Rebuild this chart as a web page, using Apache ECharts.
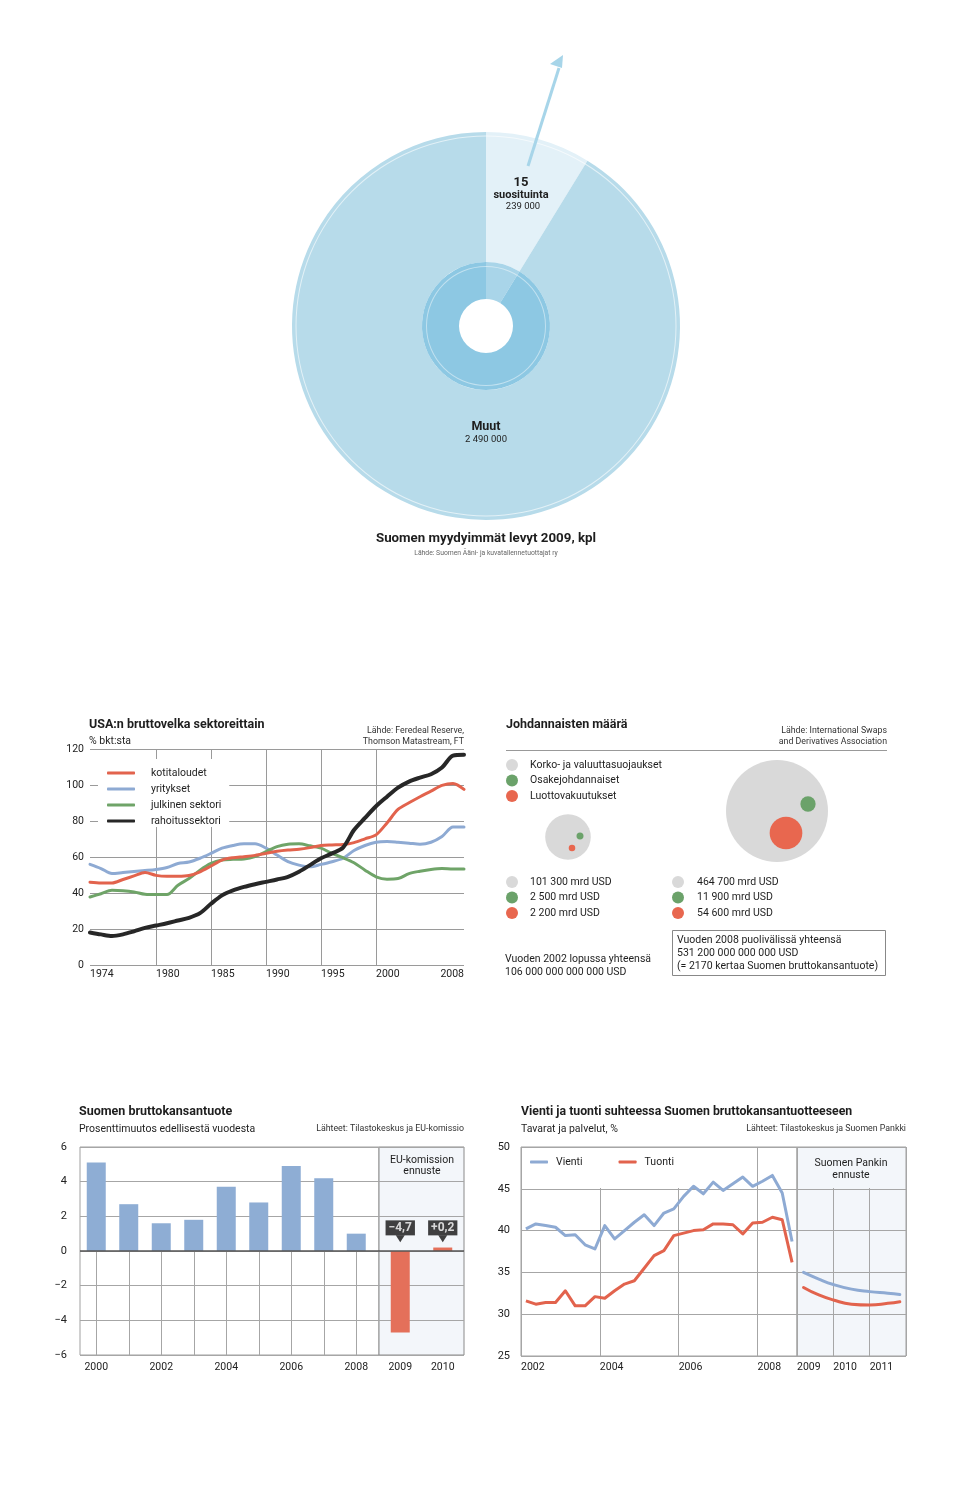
<!DOCTYPE html>
<html><head><meta charset="utf-8">
<script src="https://cdn.jsdelivr.net/npm/echarts@6/dist/echarts.min.js"></script>
<style>html,body{margin:0;padding:0;background:#fff}#c{width:960px;height:1497px}</style>
</head><body><div id="c"></div>
<script>
// ================= DATA =================
// 1) Suomen myydyimmät levyt 2009, kpl
const discLabels = ['15 suosituinta', 'Muut'];
const discValues = [239000, 2490000];

// 2) USA:n bruttovelka sektoreittain, % bkt:sta
const usaYears = [1974,1975,1976,1977,1978,1979,1980,1981,1982,1983,1984,1985,1986,1987,1988,1989,1990,1991,1992,1993,1994,1995,1996,1997,1998,1999,2000,2001,2002,2003,2004,2005,2006,2007,2008];
const usaHouseholds = [46.0,45.6,45.6,47.5,49.5,51.4,49.8,49.3,49.3,49.7,51.8,55.0,58.3,59.6,60.2,60.9,62.0,63.2,63.9,64.3,65.2,66.4,66.7,66.9,68.0,70.1,72.3,78.9,86.4,90.1,93.5,96.6,99.8,100.9,97.6];
const usaCorporate = [55.9,53.6,50.8,51.4,52.0,52.5,53.1,54.2,56.4,57.2,59.3,62.0,64.9,66.4,67.3,67.3,64.9,61.1,57.4,55.5,54.6,55.9,57.4,59.3,63.6,66.4,68.2,68.6,68.2,67.7,67.1,68.2,71.4,76.6,76.6];
const usaPublic = [37.8,39.6,41.5,41.3,40.6,39.3,39.1,39.1,44.3,48.0,52.7,56.4,58.3,58.7,58.9,60.2,63.0,65.8,67.1,67.3,66.2,64.9,62.0,59.6,56.8,52.7,49.0,47.7,48.0,50.8,52.1,53.1,53.6,53.3,53.3];
const usaFinancial = [18.1,17.0,16.1,17.0,18.7,20.6,21.9,23.2,24.7,26.2,28.8,34.0,38.7,41.5,43.4,44.9,46.2,47.5,49.0,51.8,55.5,59.3,62.0,65.2,75.0,81.7,88.2,93.5,98.5,101.9,104.1,106.0,109.7,116.3,116.8];
const usaSeriesNames = ['kotitaloudet','yritykset','julkinen sektori','rahoitussektori'];
const usaXTicks = [1974,1980,1985,1990,1995,2000];
const usaXEndTick = [2008];
const usaGridYears = [1980,1985,1990,1995,2000];

// 3) Johdannaisten määrä, mrd USD
const derivTypes = ['Korko- ja valuuttasuojaukset','Osakejohdannaiset','Luottovakuutukset'];
const deriv2002 = [101300, 2500, 2200];
const deriv2008 = [464700, 11900, 54600];

// 4) Suomen bruttokansantuote, % muutos
const gdpYears = [2000,2001,2002,2003,2004,2005,2006,2007,2008];
const gdpValues = [5.1,2.7,1.6,1.8,3.7,2.8,4.9,4.2,1.0];
const gdpLabelYears = [2000,2002,2004,2006,2008];
const gdpForecastYears = ['2009','2010'];
const gdpForecast = [-4.7, 0.2];

// 5) Vienti ja tuonti suhteessa BKT:hen, %
const tradeQuarters = ['2002Q1','2002Q2','2002Q3','2002Q4','2003Q1','2003Q2','2003Q3','2003Q4','2004Q1','2004Q2','2004Q3','2004Q4','2005Q1','2005Q2','2005Q3','2005Q4','2006Q1','2006Q2','2006Q3','2006Q4','2007Q1','2007Q2','2007Q3','2007Q4','2008Q1','2008Q2','2008Q3','2008Q4'];
const exportsPct = [40.2,40.8,40.6,40.4,39.4,39.5,38.3,37.8,40.6,39.0,40.0,41.0,41.9,40.6,42.1,42.6,44.1,45.3,44.4,45.8,44.8,45.6,46.4,45.3,45.9,46.6,44.5,38.7];
const importsPct = [31.6,31.2,31.4,31.4,32.8,31.0,31.0,32.1,31.9,32.8,33.6,34.0,35.5,37.0,37.6,39.4,39.7,40.0,40.1,40.8,40.8,40.7,39.6,40.9,41.0,41.6,41.3,36.2];
const tradeForecastX = [2009.18,2009.6,2010.0,2010.5,2011.0,2011.5,2011.83];
const exportsForecast = [35.0,34.2,33.55,33.0,32.7,32.5,32.35];
const importsForecast = [33.2,32.3,31.7,31.2,31.1,31.3,31.5];

// ================= HELPERS / STYLE =================
const FONT = 'Roboto, "Noto Sans", "DejaVu Sans", sans-serif';
const TXT = '#1e1e1e';
const GRID_LINE = '#a6a6a6';
const C_RED = '#e2634d', C_BLUE = '#8eaad3', C_GREEN = '#6fa468', C_BLACK = '#272727';
const C_GRAY = '#d9d9d9', C_BGREEN = '#6ba26a', C_BRED = '#e8674f';
const FORECAST_BG = '#f3f6fa';
const thousands = v => String(v).replace(/\B(?=(\d{3})+(?!\d))/g, ' ');
const fiNum = (v, sign) => (v < 0 ? '\u2212' : (sign ? '+' : '')) + Math.abs(v).toFixed(1).replace('.', ',');
const quarterPos = q => +q.slice(0, 4) + (+q.slice(5) - 0.5) / 4;
const sum = a => a.reduce((s, v) => s + v, 0);

const total2002 = sum(deriv2002), total2008 = sum(deriv2008);
// bubble radius scale (area proportional to value)
const bubbleK = 51 / Math.sqrt(total2008);
const bubbleSize = v => 2 * bubbleK * Math.sqrt(v);
// layout of the bubble groups (pixel positions inside the bubble grid)
const bubbleLayout = {
  centers: [[62, 87], [271, 61]],
  offsets: [ [[0,0],[12,-1],[4,11]], [[0,0],[31,-7],[9,22]] ]
};
const bubbleColors = [C_GRAY, C_BGREEN, C_BRED];

function text(x, y, str, size, opts = {}) {
  return {
    type: 'text', x, y, z: 100, silent: true,
    style: {
      text: str, fill: opts.color || TXT,
      fontSize: size, fontWeight: opts.weight || 'normal', fontFamily: FONT,
      align: opts.align || 'left', verticalAlign: 'middle',
      textAlign: opts.align || 'left', textVerticalAlign: 'middle'
    }
  };
}

// ================= GRAPHIC (titles, notes, annotations) =================
const g = [];
// Disc chart
g.push({ type: 'line', z: 100, silent: true, shape: { x1: 528, y1: 166, x2: 559, y2: 68 }, style: { stroke: '#a7d5e9', lineWidth: 3 } });
g.push({ type: 'polygon', z: 100, silent: true, shape: { points: [[563, 55], [550, 64], [562, 68]] }, style: { fill: '#a7d5e9' } });
g.push(text(521, 183, '15', 13, { align: 'center', weight: 'bold' }));
g.push(text(521, 195, 'suosituinta', 11, { align: 'center', weight: 'bold' }));
g.push(text(523, 207, thousands(discValues[0]), 9.5, { align: 'center' }));
g.push(text(486, 427, discLabels[1], 12.5, { align: 'center', weight: 'bold' }));
g.push(text(486, 440, thousands(discValues[1]), 9.5, { align: 'center' }));
g.push(text(486, 539, 'Suomen myydyimmät levyt 2009, kpl', 13.3, { align: 'center', weight: 'bold' }));
g.push(text(486, 553, 'Lähde: Suomen Ääni- ja kuvatallennetuottajat ry', 6.8, { align: 'center', color: '#666' }));

// USA chart
g.push(text(89, 725, 'USA:n bruttovelka sektoreittain', 12.5, { weight: 'bold' }));
g.push(text(89, 741, '% bkt:sta', 10.5));
g.push(text(464, 731, 'Lähde: Feredeal Reserve,', 8.8, { align: 'right', color: '#333' }));
g.push(text(464, 742, 'Thomson Matastream, FT', 8.8, { align: 'right', color: '#333' }));

// Derivatives
g.push(text(506, 725, 'Johdannaisten määrä', 12.5, { weight: 'bold' }));
g.push(text(887, 731, 'Lähde: International Swaps', 8.8, { align: 'right', color: '#333' }));
g.push(text(887, 742, 'and Derivatives Association', 8.8, { align: 'right', color: '#333' }));
g.push({ type: 'line', z: 100, silent: true, shape: { x1: 506, y1: 750.5, x2: 887, y2: 750.5 }, style: { stroke: '#999', lineWidth: 1 } });
[[deriv2002, 512, 530], [deriv2008, 678, 697]].forEach(([vals, cx, tx]) => {
  vals.forEach((v, i) => {
    const y = 882 + i * 15.5;
    g.push({ type: 'circle', z: 100, silent: true, shape: { cx, cy: y, r: 6 }, style: { fill: bubbleColors[i] } });
    g.push(text(tx, y, thousands(v) + ' mrd USD', 10.5));
  });
});
g.push(text(505, 959, 'Vuoden 2002 lopussa yhteensä', 10.5));
g.push(text(505, 972, thousands(total2002) + ' 000 000 000 USD', 10.5));
g.push({ type: 'rect', z: 100, silent: true, shape: { x: 672.5, y: 930.5, width: 213, height: 45 }, style: { fill: 'none', stroke: '#888', lineWidth: 1 } });
g.push(text(677, 940, 'Vuoden 2008 puolivälissä yhteensä', 10.5));
g.push(text(677, 953, thousands(total2008) + ' 000 000 000 USD', 10.5));
g.push(text(677, 966, '(= 2170 kertaa Suomen bruttokansantuote)', 10.5));

// GDP chart
g.push(text(79, 1112, 'Suomen bruttokansantuote', 12.5, { weight: 'bold' }));
g.push(text(79, 1129, 'Prosenttimuutos edellisestä vuodesta', 10.5));
g.push(text(464, 1129, 'Lähteet: Tilastokeskus ja EU-komissio', 8.8, { align: 'right', color: '#333' }));
g.push(text(422, 1160, 'EU-komission', 10.5, { align: 'center' }));
g.push(text(422, 1171, 'ennuste', 10.5, { align: 'center' }));

// Trade chart
g.push(text(521, 1112, 'Vienti ja tuonti suhteessa Suomen bruttokansantuotteeseen', 12.3, { weight: 'bold' }));
g.push(text(521, 1129, 'Tavarat ja palvelut, %', 10.5));
g.push(text(906, 1129, 'Lähteet: Tilastokeskus ja Suomen Pankki', 8.8, { align: 'right', color: '#333' }));
g.push({ type: 'rect', z: 99, silent: true, shape: { x: 798, y: 1148, width: 107, height: 40 }, style: { fill: FORECAST_BG } });
g.push(text(851, 1163, 'Suomen Pankin', 10.5, { align: 'center' }));
g.push(text(851, 1175, 'ennuste', 10.5, { align: 'center' }));

// ================= OPTION =================
const axisLabelBase = { fontFamily: FONT, fontSize: 10.5, color: '#222' };
const hiddenAxis = { show: false };

function vLineRender(yFrom, yTo, color) {
  return function (params, api) {
    const a = api.coord([api.value(0), yFrom]);
    const b = api.coord([api.value(0), yTo]);
    const x = Math.round(a[0]) + 0.5;
    return { type: 'line', shape: { x1: x, y1: a[1], x2: x, y2: b[1] }, style: { stroke: color, lineWidth: 1 } };
  };
}

const option = {
  animation: false,
  backgroundColor: '#fff',
  textStyle: { fontFamily: FONT },
  grid: [
    { left: 90, top: 749, width: 374, height: 216 },                         // 0 USA
    { left: 506, top: 750, width: 381, height: 230 },                        // 1 bubbles
    { left: 80, top: 1147, width: 299, height: 208, show: true, backgroundColor: '#fff', borderColor: '#a0a0a0', borderWidth: 1 }, // 2 GDP
    { left: 379, top: 1147, width: 85, height: 208, show: true, backgroundColor: FORECAST_BG, borderColor: '#8a8a8a', borderWidth: 1 }, // 3 GDP forecast
    { left: 521, top: 1147, width: 276, height: 209, show: true, backgroundColor: '#fff', borderColor: '#a0a0a0', borderWidth: 1 }, // 4 trade
    { left: 797, top: 1147, width: 109, height: 209, show: true, backgroundColor: FORECAST_BG, borderColor: '#a0a0a0', borderWidth: 1 } // 5 trade forecast
  ],
  xAxis: [
    { gridIndex: 0, type: 'value', position: 'bottom', min: 1974, max: 2008, axisLine: { show: false }, axisTick: { show: false }, splitLine: { show: false },
      axisLabel: Object.assign({ customValues: usaXTicks, align: 'left', margin: 4, formatter: v => String(v) }, axisLabelBase) },
    { gridIndex: 0, type: 'value', position: 'bottom', offset: 0, min: 1974, max: 2008, axisLine: { show: false }, axisTick: { show: false }, splitLine: { show: false },
      axisLabel: Object.assign({ customValues: usaXEndTick, align: 'right', margin: 4, formatter: v => String(v) }, axisLabelBase) },
    Object.assign({ gridIndex: 1, type: 'value', min: 0, max: 381 }, hiddenAxis),
    { gridIndex: 2, type: 'value', min: 1999.5, max: 2008.7, axisLine: { show: false }, axisTick: { show: false }, splitLine: { show: false },
      axisLabel: Object.assign({ customValues: gdpLabelYears, margin: 7, formatter: v => String(v) }, axisLabelBase) },
    { gridIndex: 3, type: 'category', data: gdpForecastYears, boundaryGap: true, axisLine: { show: false }, axisTick: { show: false }, splitLine: { show: false },
      axisLabel: Object.assign({ margin: 7 }, axisLabelBase) },
    { gridIndex: 4, type: 'value', min: 2002, max: 2009, interval: 2, axisLine: { show: false }, axisTick: { show: false },
      splitLine: { show: true, lineStyle: { color: GRID_LINE, width: 1 } },
      axisLabel: Object.assign({ align: 'left', margin: 6, showMaxLabel: false, formatter: v => String(v) }, axisLabelBase) },
    { gridIndex: 5, type: 'value', min: 2009, max: 2012, interval: 1, axisLine: { show: false }, axisTick: { show: false },
      splitLine: { show: true, lineStyle: { color: GRID_LINE, width: 1 } },
      axisLabel: Object.assign({ align: 'left', margin: 6, showMaxLabel: false, formatter: v => String(v) }, axisLabelBase) }
  ],
  yAxis: [
    { gridIndex: 0, type: 'value', min: 0, max: 120, interval: 20, axisLine: { show: false }, axisTick: { show: false },
      splitLine: { lineStyle: { color: '#9a9a9a', width: 1 } }, axisLabel: Object.assign({ margin: 6 }, axisLabelBase) },
    Object.assign({ gridIndex: 1, type: 'value', min: 0, max: 230, inverse: true }, hiddenAxis),
    { gridIndex: 2, type: 'value', min: -6, max: 6, interval: 2, axisLine: { show: false }, axisTick: { show: false },
      splitLine: { lineStyle: { color: GRID_LINE, width: 1 } },
      axisLabel: Object.assign({ margin: 13, formatter: v => (v < 0 ? '\u2212' + Math.abs(v) : String(v)) }, axisLabelBase, { fontSize: 11 }) },
    { gridIndex: 3, type: 'value', min: -6, max: 6, interval: 2, axisLine: { show: false }, axisTick: { show: false },
      splitLine: { lineStyle: { color: GRID_LINE, width: 1 } }, axisLabel: { show: false } },
    { gridIndex: 4, type: 'value', min: 25, max: 50, interval: 5, axisLine: { show: false }, axisTick: { show: false },
      splitLine: { lineStyle: { color: GRID_LINE, width: 1 } }, axisLabel: Object.assign({ margin: 11 }, axisLabelBase, { fontSize: 11 }) },
    { gridIndex: 5, type: 'value', min: 25, max: 50, interval: 5, axisLine: { show: false }, axisTick: { show: false },
      splitLine: { lineStyle: { color: GRID_LINE, width: 1 } }, axisLabel: { show: false } }
  ],
  legend: [
    { data: usaSeriesNames, selectedMode: false, orient: 'vertical', left: 98, top: 759, icon: 'roundRect',
      itemWidth: 28, itemHeight: 3, itemGap: 4, padding: [8, 8, 0, 9], backgroundColor: '#fff', z: 10,
      textStyle: { fontFamily: FONT, fontSize: 10.5, color: TXT, padding: [0, 0, 0, 11], lineHeight: 12 } },
    { data: derivTypes, selectedMode: false, orient: 'vertical', left: 506, top: 759, icon: 'circle',
      itemWidth: 12, itemHeight: 12, itemGap: 3.5, padding: 0,
      textStyle: { fontFamily: FONT, fontSize: 10.5, color: TXT, padding: [0, 0, 0, 7] } },
    { data: ['Vienti', 'Tuonti'], selectedMode: false, orient: 'horizontal', left: 522, top: 1148, icon: 'roundRect',
      itemWidth: 18, itemHeight: 3, itemGap: 36, padding: [7, 6, 19, 8], backgroundColor: '#fff', z: 10,
      textStyle: { fontFamily: FONT, fontSize: 10.5, color: TXT, padding: [0, 0, 0, 3], lineHeight: 14 } }
  ],
  graphic: { elements: g },
  series: []
};

const S = option.series;

// ---- Disc (pie) ----
S.push({ type: 'pie', center: [486, 326], radius: [64, 194], startAngle: 90, silent: true, label: { show: false }, labelLine: { show: false },
  emphasis: { disabled: true }, itemStyle: { borderWidth: 0 },
  data: discValues.map((v, i) => ({ name: discLabels[i], value: v, itemStyle: { color: ['#e3f1f8', '#b7dbea'][i] } })) });
S.push({ type: 'pie', center: [486, 326], radius: [27, 64], startAngle: 90, silent: true, label: { show: false }, labelLine: { show: false },
  emphasis: { disabled: true }, itemStyle: { borderWidth: 0 },
  data: discValues.map((v, i) => ({ name: discLabels[i], value: v, itemStyle: { color: ['#a9d5e9', '#8dc8e3'][i] } })) });
S.push({ type: 'pie', center: [486, 326], radius: [189.5, 190.5], silent: true, label: { show: false }, emphasis: { disabled: true },
  data: [{ value: 1, itemStyle: { color: 'rgba(255,255,255,0.6)' } }] });
S.push({ type: 'pie', center: [486, 326], radius: [59, 60], silent: true, label: { show: false }, emphasis: { disabled: true },
  data: [{ value: 1, itemStyle: { color: 'rgba(255,255,255,0.45)' } }] });

// ---- USA ----
S.push({ type: 'custom', xAxisIndex: 0, yAxisIndex: 0, z: 1, silent: true, data: usaGridYears.map(y => [y]),
  encode: { x: 0 }, renderItem: vLineRender(0, 120, '#9a9a9a') });
const usaDefs = [
  ['yritykset', usaCorporate, C_BLUE, 3],
  ['julkinen sektori', usaPublic, C_GREEN, 3],
  ['kotitaloudet', usaHouseholds, C_RED, 3],
  ['rahoitussektori', usaFinancial, C_BLACK, 4]
];
usaDefs.forEach(([name, vals, color, w]) => {
  S.push({ type: 'line', name, xAxisIndex: 0, yAxisIndex: 0, showSymbol: false, symbol: 'none', smooth: 0.3, silent: true, color,
    lineStyle: { color, width: w, cap: 'round', join: 'round' },
    data: usaYears.map((y, i) => [y, vals[i]]) });
});

// ---- Bubbles ----
derivTypes.forEach((name, k) => {
  S.push({ type: 'scatter', name, xAxisIndex: 2, yAxisIndex: 1, silent: true, color: bubbleColors[k],
    itemStyle: { color: bubbleColors[k], opacity: 1 },
    symbolSize: d => bubbleSize(d[2]),
    data: [k === 0 ? total2002 : deriv2002[k], k === 0 ? total2008 : deriv2008[k]].map((v, gi) => {
      const c = bubbleLayout.centers[gi], o = bubbleLayout.offsets[gi][k];
      return [c[0] + o[0], c[1] + o[1], v];
    }) });
});

// ---- GDP ----
S.push({ type: 'custom', xAxisIndex: 3, yAxisIndex: 2, z: 1, silent: true, data: gdpYears.map(y => [y]),
  encode: { x: 0 }, renderItem: vLineRender(0, -6, '#a6a6a6') });
const zeroLine = { silent: true, symbol: 'none', label: { show: false }, lineStyle: { color: '#555', width: 1.5, type: 'solid' }, data: [{ yAxis: 0 }] };
S.push({ type: 'bar', xAxisIndex: 3, yAxisIndex: 2, barWidth: 19, silent: true, itemStyle: { color: '#8eadd4' },
  data: gdpYears.map((y, i) => [y, gdpValues[i]]), markLine: zeroLine });
S.push({ type: 'bar', xAxisIndex: 4, yAxisIndex: 3, barWidth: 19, silent: true, itemStyle: { color: '#e4705a' },
  data: gdpForecast, markLine: zeroLine });
S.push({ type: 'scatter', xAxisIndex: 4, yAxisIndex: 3, silent: true, z: 5,
  symbol: 'path://M0,0L10,0L5,7Z', symbolSize: [9, 7], itemStyle: { color: '#111' },
  data: gdpForecast.map((v, i) => ({ value: [i, 0.7], raw: v })),
  label: { show: true, position: 'top', distance: 0, color: '#fff', fontFamily: FONT, fontWeight: 'bold', fontSize: 12,
    backgroundColor: '#111', padding: [2, 3, 1, 3],
    formatter: p => fiNum(gdpForecast[p.dataIndex], true) } });

// ---- Trade ----
S.push({ type: 'line', name: 'Vienti', xAxisIndex: 5, yAxisIndex: 4, showSymbol: false, symbol: 'none', silent: true, color: C_BLUE,
  lineStyle: { color: C_BLUE, width: 3, join: 'round' }, data: tradeQuarters.map((q, i) => [quarterPos(q), exportsPct[i]]) });
S.push({ type: 'line', name: 'Tuonti', xAxisIndex: 5, yAxisIndex: 4, showSymbol: false, symbol: 'none', silent: true, color: C_RED,
  lineStyle: { color: C_RED, width: 3, join: 'round' }, data: tradeQuarters.map((q, i) => [quarterPos(q), importsPct[i]]) });
S.push({ type: 'line', name: 'Vienti', xAxisIndex: 6, yAxisIndex: 5, showSymbol: false, symbol: 'none', smooth: true, silent: true, color: C_BLUE,
  lineStyle: { color: C_BLUE, width: 3, cap: 'round' }, data: tradeForecastX.map((x, i) => [x, exportsForecast[i]]) });
S.push({ type: 'line', name: 'Tuonti', xAxisIndex: 6, yAxisIndex: 5, showSymbol: false, symbol: 'none', smooth: true, silent: true, color: C_RED,
  lineStyle: { color: C_RED, width: 3, cap: 'round' }, data: tradeForecastX.map((x, i) => [x, importsForecast[i]]) });

const chart = echarts.init(document.getElementById('c'), null, { renderer: 'canvas', width: 960, height: 1497 });
chart.setOption(option);
</script>
</body></html>
